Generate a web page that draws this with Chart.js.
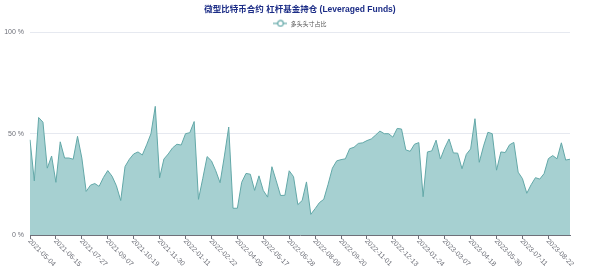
<!DOCTYPE html>
<html>
<head>
<meta charset="utf-8">
<script src="https://cdn.jsdelivr.net/npm/chart.js@4"></script>
<style>
  html, body { margin: 0; padding: 0; background: #ffffff; }
  #wrap { width: 600px; height: 266px; position: relative; }
</style>
</head>
<body>
<div id="wrap"><canvas id="c"></canvas></div>
<script>
const chartTitle = '微型比特币合约 杠杆基金持仓 (Leveraged Funds)';
const seriesName = '多头头寸占比';

const dates = [
  '2021-05-04','2021-05-11','2021-05-18','2021-05-25','2021-06-01','2021-06-08','2021-06-15','2021-06-22','2021-06-29','2021-07-06',
  '2021-07-13','2021-07-20','2021-07-27','2021-08-03','2021-08-10','2021-08-17','2021-08-24','2021-08-31','2021-09-07','2021-09-14',
  '2021-09-21','2021-09-28','2021-10-05','2021-10-12','2021-10-19','2021-10-26','2021-11-02','2021-11-09','2021-11-16','2021-11-23',
  '2021-11-30','2021-12-07','2021-12-14','2021-12-21','2021-12-28','2022-01-04','2022-01-11','2022-01-18','2022-01-25','2022-02-01',
  '2022-02-08','2022-02-15','2022-02-22','2022-03-01','2022-03-08','2022-03-15','2022-03-22','2022-03-29','2022-04-05','2022-04-12',
  '2022-04-19','2022-04-26','2022-05-03','2022-05-10','2022-05-17','2022-05-24','2022-05-31','2022-06-07','2022-06-14','2022-06-21',
  '2022-06-28','2022-07-05','2022-07-12','2022-07-19','2022-07-26','2022-08-02','2022-08-09','2022-08-16','2022-08-23','2022-08-30',
  '2022-09-06','2022-09-13','2022-09-20','2022-09-27','2022-10-04','2022-10-11','2022-10-18','2022-10-25','2022-11-01','2022-11-08',
  '2022-11-15','2022-11-22','2022-11-29','2022-12-06','2022-12-13','2022-12-20','2022-12-27','2023-01-03','2023-01-10','2023-01-17',
  '2023-01-24','2023-01-31','2023-02-07','2023-02-14','2023-02-21','2023-02-28','2023-03-07','2023-03-14','2023-03-21','2023-03-28',
  '2023-04-04','2023-04-11','2023-04-18','2023-04-25','2023-05-02','2023-05-09','2023-05-16','2023-05-23','2023-05-30','2023-06-06',
  '2023-06-13','2023-06-20','2023-06-27','2023-07-04','2023-07-11','2023-07-18','2023-07-25','2023-08-01','2023-08-08','2023-08-15',
  '2023-08-22','2023-08-29','2023-09-05','2023-09-12','2023-09-19','2023-09-26'
];

const longShare = [
  47, 26.7, 58, 55.7, 33, 39, 26, 46, 38, 38,
  37.4, 48.7, 38, 21.5, 24.6, 25.4, 24, 28.4, 31.8, 29,
  24.3, 17, 33.8, 37.4, 40, 41, 39.5, 44.5, 50, 63.5,
  28.2, 37.5, 40, 43, 44.8, 44.4, 50, 50.5, 56, 17.6,
  28, 38.7, 36.6, 31.7, 25.8, 39, 53.3, 13.2, 13.2, 26,
  30.4, 30, 22, 29.2, 22, 18.7, 33.7, 26.7, 19.5, 19.6,
  31.7, 28.8, 15, 17, 26.2, 10.2, 13, 16, 17.6, 25,
  33, 36.6, 37.2, 37.6, 42.6, 43.3, 45.2, 45.5, 46.6, 47.4,
  49.3, 51.3, 50, 50, 48.3, 52.6, 52.3, 42, 41.3, 44.8,
  45.6, 18.9, 41, 41.5, 46.8, 37.5, 43, 47.4, 40.5, 40.4,
  32.7, 39.8, 42.5, 57.4, 35.9, 44, 50.7, 50, 32, 41,
  40.7, 44.5, 45.7, 31, 27.8, 20.6, 24.8, 28.3, 27.6, 30.3,
  37.7, 39.2, 37.6, 45.5, 37, 37.4
];

const yTicks = [0, 50, 100];
const labelEvery = 6;

const lineColor = '#63a8a8';
const fillColor = '#a6d0d1';
const axisColor = '#6e7079';
const gridColor = '#e6e9f0';
const latin = '"Liberation Sans", Arial, sans-serif';
const cjk = '"Noto Sans CJK SC", "Liberation Sans", sans-serif';
const titleFont = '"Liberation Sans", "Noto Sans CJK SC", sans-serif';

// legend icon: line with hollow circle
const icon = document.createElement('canvas');
icon.width = 14; icon.height = 8;
(function () {
  const g = icon.getContext('2d');
  g.strokeStyle = lineColor; g.lineWidth = 1.2;
  g.beginPath(); g.moveTo(0, 4); g.lineTo(14, 4); g.stroke();
  g.beginPath(); g.arc(7, 4, 2.8, 0, Math.PI * 2);
  g.fillStyle = '#ffffff'; g.fill(); g.stroke();
})();

const shiftLegend = {
  id: 'shiftLegend',
  afterLayout(chart) {
    if (chart.legend) { chart.legend.top += 4; chart.legend.bottom += 4; }
  }
};

const rotatedXLabels = {
  id: 'rotatedXLabels',
  afterDraw(chart) {
    const xs = chart.scales.x;
    const ctx = chart.ctx;
    ctx.save();
    ctx.font = '7px ' + latin;
    ctx.fillStyle = axisColor;
    ctx.textAlign = 'left';
    ctx.textBaseline = 'middle';
    for (let i = 0; i < dates.length; i += labelEvery) {
      const x = xs.getPixelForValue(i);
      ctx.save();
      ctx.translate(x - 1, xs.top + 5);
      ctx.rotate(Math.PI / 4);
      ctx.fillText(dates[i], 0, 0);
      ctx.restore();
    }
    ctx.restore();
  }
};

new Chart(document.getElementById('c'), {
  type: 'line',
  data: {
    labels: dates,
    datasets: [{
      label: seriesName,
      data: longShare,
      borderColor: lineColor,
      backgroundColor: fillColor,
      borderWidth: 1,
      fill: 'origin',
      tension: 0,
      pointRadius: 0,
      pointHoverRadius: 0,
      pointStyle: icon
    }]
  },
  options: {
    responsive: true,
    maintainAspectRatio: false,
    animation: false,
    layout: { padding: 0 },
    plugins: {
      title: {
        display: true,
        text: chartTitle,
        color: '#1b2c86',
        font: { family: titleFont, size: 8.5, weight: 'bold' },
        padding: { top: 5, bottom: 0 }
      },
      legend: {
        display: true,
        position: 'top',
        labels: {
          usePointStyle: true,
          pointStyleWidth: 14,
          font: { family: cjk, size: 6 },
          color: '#555',
          padding: 1.2
        }
      },
      tooltip: { enabled: false }
    },
    scales: {
      x: {
        type: 'category',
        offset: false,
        afterFit(scale) { scale.height = 31; scale.paddingLeft = 0; scale.paddingRight = 30; },
        ticks: { display: false, autoSkip: false },
        grid: {
          drawOnChartArea: false,
          drawTicks: true,
          tickLength: 4,
          tickWidth: 1,
          tickColor: (c) => (c.index % labelEvery === 0 ? axisColor : 'rgba(0,0,0,0)')
        },
        border: { display: true, color: axisColor, width: 1 }
      },
      y: {
        min: 0,
        max: 100,
        afterFit(scale) { scale.width = 30; },
        afterBuildTicks(scale) { scale.ticks = yTicks.map(v => ({ value: v })); },
        ticks: {
          callback: (v) => v + ' %',
          color: axisColor,
          font: { family: latin, size: 7 },
          padding: 6
        },
        grid: {
          drawTicks: false,
          color: (c) => (c.tick && c.tick.value === 0 ? 'rgba(0,0,0,0)' : gridColor),
          lineWidth: 1
        },
        border: { display: false }
      }
    }
  },
  plugins: [shiftLegend, rotatedXLabels]
});
</script>
</body>
</html>
